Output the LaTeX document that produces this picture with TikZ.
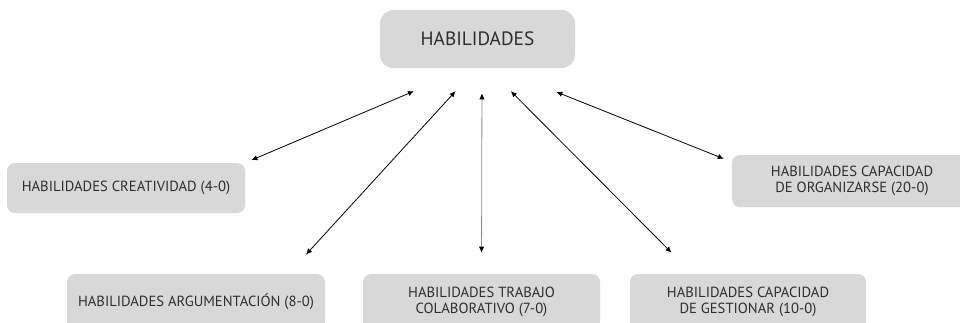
\documentclass[tikz,border=0pt]{standalone}
\usepackage{fontspec}
\setmainfont{PT Sans}
\usetikzlibrary{arrows.meta}
\definecolor{boxgray}{HTML}{D8D8D8}
\definecolor{inkgray}{HTML}{2E2E2E}

\begin{document}
\begin{tikzpicture}[x=0.75pt, y=-0.75pt, font=\fontsize{11}{12.5}\selectfont,
  >={Latex[length=4.5pt,width=4pt,color=black]},
  skill/.style={fill=boxgray, rounded corners=6pt, text=inkgray, align=center, inner sep=0pt},
  hub/.style={skill, rounded corners=10pt, font=\fontsize{14.5}{16}\selectfont},
  link/.style={<->, line width=0.6pt}]
  \useasboundingbox (0,0) rectangle (960,322);

  \node[hub, minimum width=146.25pt, minimum height=43.5pt] (hab) at (477.5,39) {HABILIDADES};
  \coordinate (focus) at ([xshift=3.4pt,yshift=4.5pt]hab.south);

  \node[skill, minimum width=178.5pt, minimum height=37.5pt] (crea) at (126,188) {HABILIDADES CREATIVIDAD (4-0)};
  \node[skill, minimum width=193.5pt, minimum height=42pt] (arg) at (196,302) {HABILIDADES ARGUMENTACIÓN (8-0)};
  \node[skill, minimum width=177.75pt, minimum height=42pt] (trab) at (481.5,302) {HABILIDADES TRABAJO\\COLABORATIVO (7-0)};
  \node[skill, minimum width=177pt, minimum height=42pt] (gest) at (748,302) {HABILIDADES CAPACIDAD\\DE GESTIONAR (10-0)};
  \node[skill, minimum width=180pt, minimum height=39pt] (org) at (852,181) {HABILIDADES CAPACIDAD\\DE ORGANIZARSE (20-0)};

  \draw[link, shorten <=55.5pt, shorten >=5pt] (focus) -- (crea.north east);
  \draw[link, shorten <=29.4pt, shorten >=19.5pt] (focus) -- (arg.17);
  \draw[link, draw=black!45, shorten <=23.25pt, shorten >=15.75pt] (focus) -- (trab.north);
  \draw[link, shorten <=30.6pt, shorten >=22.3pt] (focus) -- (gest.153);
  \draw[link, shorten <=60pt, shorten >=6.4pt] (focus) -- (org.171);
\end{tikzpicture}
\end{document}
